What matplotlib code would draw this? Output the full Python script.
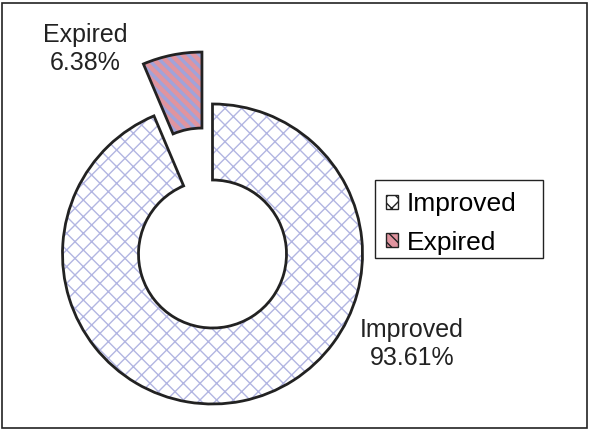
import matplotlib
matplotlib.use("Agg")
import matplotlib.pyplot as plt
from matplotlib.patches import Patch, Rectangle

# data
labels = ["Improved", "Expired"]
percents = [93.61, 6.38]
fills = ["white", "#e0949f"]
hatch_colors = ["#b2b5e2", "#a0a3da"]
hatches = ["xx", "\\\\\\"]
hatch_widths = [1.0, 2.4]

plt.rcParams["font.family"] = ["Liberation Sans", "DejaVu Sans"]
plt.rcParams["hatch.linewidth"] = 1.0

fig = plt.figure(figsize=(5.9, 4.3), dpi=100)
ax = fig.add_axes([0, 0, 1, 1])

center = (212.5, 430 - 254)
radius = 150
ring = 76
explode = [0, 53]

# hatched layer
wedges, _ = ax.pie(percents, center=center, radius=radius, startangle=90,
                   counterclock=False, explode=explode,
                   wedgeprops=dict(width=ring, linewidth=0))
for w, fc, hc, h, hw in zip(wedges, fills, hatch_colors, hatches, hatch_widths):
    w.set_facecolor(fc)
    w.set_edgecolor(hc)
    w.set_hatch(h)
    w.set_linewidth(0)
    if hasattr(w, "set_hatch_linewidth"):
        w.set_hatch_linewidth(hw)

# outline layer
ax.pie(percents, center=center, radius=radius, startangle=90,
       counterclock=False, explode=explode,
       wedgeprops=dict(width=ring, fill=False, edgecolor="#222222", linewidth=2))

ax.set_xlim(0, 590)
ax.set_ylim(0, 430)
ax.set_aspect("equal")
ax.axis("off")

ax.text(85, 430 - 49, "Expired\n6.38%", ha="center", va="center",
        fontsize=18, color="#222222", linespacing=1.2)
ax.text(412, 430 - 344, "Improved\n93.61%", ha="center", va="center",
        fontsize=18, color="#222222", linespacing=1.2)

handles = []
for lab, fc, hc, h in zip(labels, fills, hatch_colors, hatches):
    handles.append(Patch(facecolor=fc, edgecolor="#222222", hatch=h, label=lab))
leg = ax.legend(handles=handles, loc="upper left",
                bbox_to_anchor=(386 / 590, 1 - 192 / 430), fontsize=19,
                frameon=False, handlelength=0.45, handleheight=0.45,
                handletextpad=0.35, borderpad=0, labelspacing=0.55,
                borderaxespad=0)

# legend box
fig.patches.append(Rectangle((375 / 590, 1 - 258 / 430), 168 / 590, 78 / 430,
                             transform=fig.transFigure, fill=False,
                             edgecolor="#222222", linewidth=1.0))

# outer border
fig.patches.append(Rectangle((2 / 590, 2 / 430), 585 / 590, 425 / 430,
                             transform=fig.transFigure, fill=False,
                             edgecolor="#222222", linewidth=1.2))

fig.savefig("out.png", dpi=100)
